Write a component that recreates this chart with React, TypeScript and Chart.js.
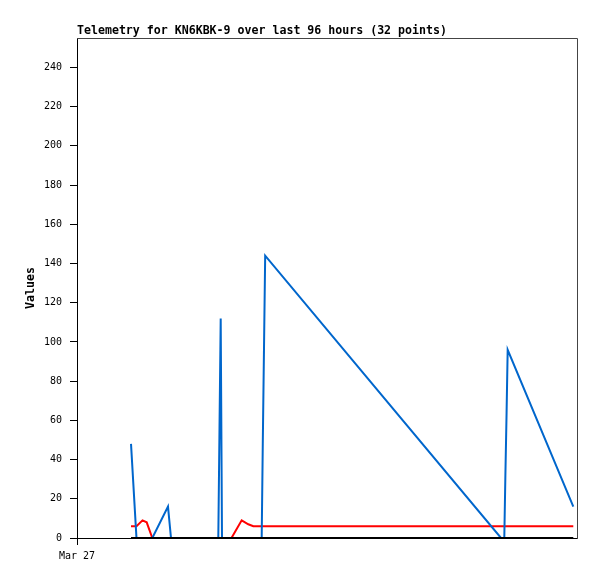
import React, { useEffect, useRef } from "react";
import { Chart, registerables } from "chart.js";

Chart.register(...registerables);

// Hours since the left edge of the 96-hour window
const hours = [
  10.37, 11.42, 12.58, 13.38, 14.46, 17.47, 18.05, 27.13, 27.36, 27.59, 27.84,
  29.66, 31.62, 32.89, 33.85, 35.46, 35.67, 35.9, 36.13, 81.41, 82.04, 82.25,
  82.48, 82.69, 95.29,
];
const blueValues = [
  48, 0, 0, 0, 0, 16, 0, 0, 56, 112, 0, 0, 0, 0, 0, 0, 48, 96, 144, 0, 0, 32,
  64, 96, 16,
];
const redValues = [
  6, 6, 9, 8, 0, 0, 0, 0, 0, 0, 0, 0, 9, 7, 6, 6, 6, 6, 6, 6, 6, 6, 6, 6, 6,
];
const blackValues = [
  0, 0, 0, 0, 0, 0, 0, 0, 0, 0, 0, 0, 0, 0, 0, 0, 0, 0, 0, 0, 0, 0, 0, 0, 0,
];

const yTickValues = [0, 20, 40, 60, 80, 100, 120, 140, 160, 180, 200, 220, 240];
const xTickValues = [0];
const xTickLabels = ["Mar 27"];

const titleText = "Telemetry for KN6KBK-9 over last 96 hours (32 points)";
const yAxisTitle = "Values";

const toPoints = (vals: number[]) => vals.map((v, i) => ({ x: hours[i], y: v }));

const framePlugin = {
  id: "frame",
  beforeDatasetsDraw(chart: any) {
    const { ctx, chartArea } = chart;
    const { left, right, top, bottom } = chartArea;
    ctx.save();
    ctx.strokeStyle = "#444444";
    ctx.lineWidth = 1;
    ctx.beginPath();
    ctx.moveTo(left, top + 0.5);
    ctx.lineTo(right + 0.5, top + 0.5);
    ctx.lineTo(right + 0.5, bottom + 1);
    ctx.stroke();
    ctx.restore();
  },
};

export default function App() {
  const ref = useRef<HTMLCanvasElement | null>(null);

  useEffect(() => {
    if (!ref.current) return;
    const mono = "'DejaVu Sans Mono', 'Liberation Mono', monospace";
    const chart = new Chart(ref.current, {
      type: "line",
      data: {
        datasets: [
          {
            label: "black",
            data: toPoints(blackValues),
            borderColor: "#000000",
            borderWidth: 2,
            pointRadius: 0,
            tension: 0,
          },
          {
            label: "blue",
            data: toPoints(blueValues),
            borderColor: "#0066cc",
            borderWidth: 2,
            pointRadius: 0,
            tension: 0,
          },
          {
            label: "red",
            data: toPoints(redValues),
            borderColor: "#ff0000",
            borderWidth: 2,
            pointRadius: 0,
            tension: 0,
          },
        ],
      },
      options: {
        animation: false,
        responsive: false,
        maintainAspectRatio: false,
        devicePixelRatio: 1,
        layout: { padding: { left: 0, right: 20, top: 0, bottom: 0 } },
        plugins: {
          legend: { display: false },
          tooltip: { enabled: false },
          title: {
            display: true,
            text: titleText,
            align: "start",
            fullSize: false,
            color: "#000000",
            font: { family: mono, size: 11.6, weight: "bold", lineHeight: 14 / 11.6 },
            padding: { top: 24, bottom: 0 },
          },
        },
        scales: {
          x: {
            type: "linear",
            min: 0,
            max: 96,
            afterBuildTicks: (scale: any) => {
              scale.ticks = xTickValues.map((v) => ({ value: v }));
            },
            afterFit: (scale: any) => {
              scale.height = 41;
            },
            ticks: {
              autoSkip: false,
              maxRotation: 0,
              color: "#000000",
              padding: 5,
              font: { family: mono, size: 10 },
              callback: (value: any) => {
                const i = xTickValues.indexOf(Number(value));
                return i >= 0 ? xTickLabels[i] : "";
              },
            },
            grid: {
              drawOnChartArea: false,
              drawTicks: true,
              tickLength: 7,
              color: "#000000",
            },
            border: { display: true, color: "#000000", width: 1 },
          },
          y: {
            type: "linear",
            min: 0,
            max: 255,
            afterBuildTicks: (scale: any) => {
              scale.ticks = yTickValues.map((v) => ({ value: v }));
            },
            afterFit: (scale: any) => {
              scale.width = 77;
            },
            ticks: {
              color: "#000000",
              padding: 8,
              font: { family: mono, size: 10 },
            },
            grid: {
              drawOnChartArea: false,
              drawTicks: true,
              tickLength: 7,
              color: "#000000",
            },
            border: { display: true, color: "#000000", width: 1 },
            title: {
              display: true,
              text: yAxisTitle,
              color: "#000000",
              font: { family: mono, size: 11.6, weight: "bold", lineHeight: 1.2 },
              padding: { top: 24, bottom: 0 },
            },
          },
        },
      },
      plugins: [framePlugin],
    } as any);
    return () => chart.destroy();
  }, []);

  return (
    <div
      style={{
        position: "fixed",
        left: 0,
        top: 0,
        width: 597,
        height: 579,
        background: "#ffffff",
      }}
    >
      <canvas ref={ref} width={597} height={579} style={{ display: "block" }} />
    </div>
  );
}
